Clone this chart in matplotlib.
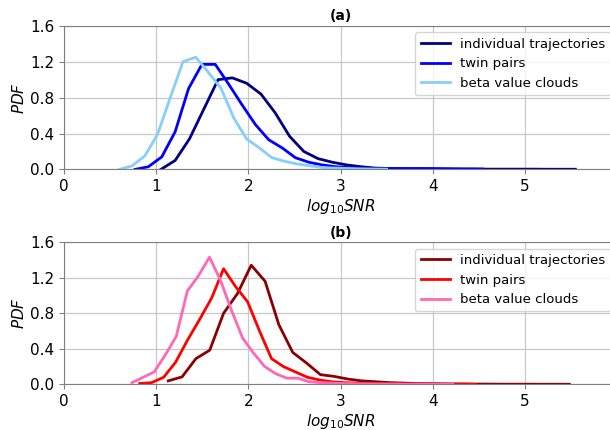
import matplotlib
matplotlib.use("Agg")
import matplotlib.pyplot as plt

labels = ["individual trajectories", "twin pairs", "beta value clouds"]

# panel (a)
a_ind_x = [1.05, 1.205, 1.36, 1.515, 1.67, 1.825, 1.98, 2.135, 2.29, 2.445, 2.6, 2.755,
           2.91, 3.065, 3.22, 3.375, 3.53, 3.685, 3.84, 3.995, 4.15, 4.305, 4.46, 4.615,
           4.77, 4.925, 5.08, 5.235, 5.39, 5.545]
a_ind_y = [0.0, 0.10, 0.34, 0.67, 1.0, 1.02, 0.96, 0.84, 0.63, 0.37, 0.20, 0.12,
           0.08, 0.05, 0.03, 0.015, 0.01, 0.01, 0.006, 0.005, 0.005, 0.004, 0.004, 0.003,
           0.003, 0.003, 0.003, 0.002, 0.002, 0.002]
a_twin_x = [0.77, 0.915, 1.06, 1.205, 1.35, 1.495, 1.64, 1.785, 1.93, 2.075, 2.22, 2.365,
            2.51, 2.655, 2.8, 2.945, 3.09, 3.235, 3.38, 3.525, 3.67, 3.815, 3.96, 4.105,
            4.25, 4.395, 4.54]
a_twin_y = [0.0, 0.03, 0.14, 0.42, 0.90, 1.17, 1.17, 0.95, 0.72, 0.50, 0.33, 0.24,
            0.13, 0.08, 0.05, 0.03, 0.02, 0.012, 0.01, 0.008, 0.006, 0.01, 0.01, 0.008,
            0.006, 0.005, 0.004]
a_beta_x = [0.6, 0.738, 0.876, 1.014, 1.152, 1.29, 1.428, 1.566, 1.704, 1.842, 1.98, 2.118,
            2.256, 2.394, 2.532, 2.67, 2.808, 2.946, 3.084, 3.222, 3.36, 3.498]
a_beta_y = [0.0, 0.04, 0.15, 0.39, 0.80, 1.20, 1.25, 1.08, 0.90, 0.57, 0.34, 0.24,
            0.13, 0.09, 0.06, 0.04, 0.02, 0.015, 0.01, 0.006, 0.004, 0.003]

# panel (b)
b_ind_x = [1.13, 1.28, 1.43, 1.58, 1.73, 1.88, 2.03, 2.18, 2.33, 2.48, 2.63, 2.78,
           2.93, 3.08, 3.23, 3.38, 3.53, 3.68, 3.83, 3.98, 4.13, 4.28, 4.43, 4.58,
           4.73, 4.88, 5.03, 5.18, 5.33, 5.48]
b_ind_y = [0.04, 0.085, 0.29, 0.385, 0.80, 1.02, 1.34, 1.16, 0.67, 0.36, 0.24, 0.11,
           0.09, 0.06, 0.04, 0.03, 0.02, 0.015, 0.01, 0.008, 0.006, 0.005, 0.004, 0.004,
           0.003, 0.003, 0.003, 0.002, 0.002, 0.002]
b_twin_x = [0.82, 0.95, 1.08, 1.21, 1.34, 1.47, 1.60, 1.73, 1.86, 1.99, 2.12, 2.25,
            2.38, 2.51, 2.64, 2.77, 2.90, 3.03, 3.16, 3.29, 3.42, 3.55, 3.68, 3.81,
            3.94, 4.07, 4.20, 4.33, 4.46]
b_twin_y = [0.01, 0.02, 0.08, 0.25, 0.50, 0.73, 0.97, 1.30, 1.10, 0.93, 0.60, 0.29,
            0.20, 0.14, 0.08, 0.05, 0.03, 0.02, 0.015, 0.01, 0.01, 0.008, 0.006, 0.005,
            0.005, 0.004, 0.003, 0.003, 0.002]
b_beta_x = [0.737, 0.857, 0.977, 1.097, 1.217, 1.337, 1.457, 1.577, 1.697, 1.817, 1.937,
            2.057, 2.177, 2.297, 2.417, 2.537, 2.657, 2.777, 2.897, 3.017, 3.137, 3.257,
            3.377, 3.497, 3.617, 3.737, 3.857, 3.977, 4.097, 4.217]
b_beta_y = [0.02, 0.08, 0.14, 0.33, 0.54, 1.05, 1.22, 1.43, 1.17, 0.83, 0.52, 0.35,
            0.20, 0.12, 0.07, 0.07, 0.03, 0.02, 0.015, 0.01, 0.008, 0.006, 0.005, 0.004,
            0.004, 0.003, 0.003, 0.002, 0.002, 0.002]

xticks = [0, 1, 2, 3, 4, 5]
yticks = [0.0, 0.4, 0.8, 1.2, 1.6]

fig = plt.figure(figsize=(6.1, 4.3), dpi=100)
ax1 = fig.add_axes([0.105, 0.606, 0.907, 0.334])
ax2 = fig.add_axes([0.105, 0.106, 0.907, 0.331])

panels = [
    (ax1, "(a)", [(a_ind_x, a_ind_y, "navy"), (a_twin_x, a_twin_y, "blue"),
                  (a_beta_x, a_beta_y, "lightskyblue")]),
    (ax2, "(b)", [(b_ind_x, b_ind_y, "darkred"), (b_twin_x, b_twin_y, "red"),
                  (b_beta_x, b_beta_y, "hotpink")]),
]

for ax, title, series in panels:
    for (x, y, c), lab in zip(series, labels):
        ax.plot(x, y, color=c, lw=2, label=lab)
    ax.set_xlim(0, 6)
    ax.set_ylim(0, 1.6)
    ax.set_xticks(xticks)
    ax.set_yticks(yticks)
    ax.tick_params(labelsize=11, color="gray")
    ax.grid(True, color="#c8c8c8", lw=0.9)
    for s in ax.spines.values():
        s.set_color("gray")
    ax.set_title(title, fontsize=10, fontweight="bold", pad=4)
    ax.set_xlabel("$log_{10}SNR$", fontsize=11, labelpad=2)
    ax.set_ylabel("$PDF$", fontsize=11, labelpad=2)
    ax.legend(loc="upper right", fontsize=9.5, handlelength=2.2)

fig.savefig("out.png", dpi=100)
